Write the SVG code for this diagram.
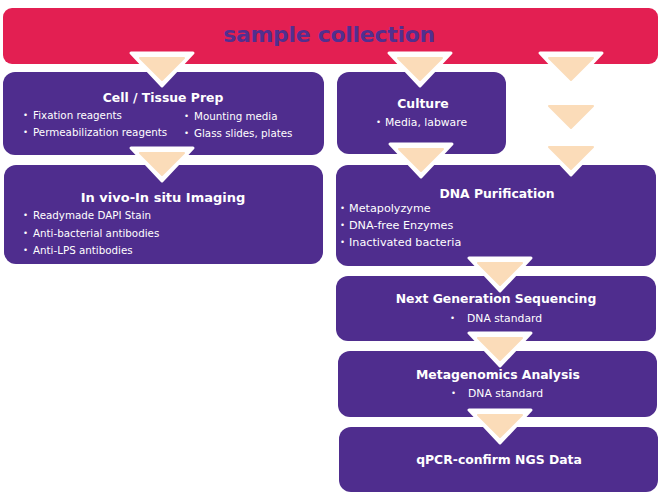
<svg xmlns="http://www.w3.org/2000/svg" width="661" height="497" viewBox="0 0 661 497">
<style>
.box{fill:#4F2D8E}
.banner{fill:#E31F52}
.ttl{font-family:"DejaVu Sans",Verdana,sans-serif;font-weight:bold;font-size:12.4px;fill:#fff;text-anchor:middle}
.b1{font-family:"DejaVu Sans",Verdana,sans-serif;font-size:10.3px;fill:#fff}
.b2{font-family:"DejaVu Sans",Verdana,sans-serif;font-size:11.2px;fill:#fff}
.b3{font-family:"DejaVu Sans",Verdana,sans-serif;font-size:10.8px;fill:#fff}
.dot{font-family:"DejaVu Sans",Verdana,sans-serif;font-size:8.5px;fill:#fff}
.hd{font-family:"DejaVu Sans",Verdana,sans-serif;font-weight:bold;font-size:22px;fill:#522F8F;text-anchor:middle;letter-spacing:-0.3px}
.ow{fill:#fff;stroke:#fff;stroke-width:3;stroke-linejoin:round}
.ip{fill:#FBDCB9;stroke:#FBDCB9;stroke-width:2;stroke-linejoin:round}
</style>
<defs>
<g id="arw">
<polygon class="ow" points="-31,1 31,1 0,34"/>
<polygon class="ip" points="-22,6 22,6 0,28"/>
</g>
</defs>
<g id="sample-collection">
<rect class="banner" x="3" y="8" width="655" height="56" rx="9"/>
<text class="hd" x="329" y="42">sample collection</text>
</g>
<g id="cell-tissue-prep">
<rect class="box" x="3" y="72" width="321" height="83" rx="12"/>
<text class="ttl" x="163" y="102">Cell / Tissue Prep</text>
<text class="dot" x="23" y="118">•</text><text class="b1" x="33" y="119">Fixation reagents</text>
<text class="dot" x="23" y="135">•</text><text class="b1" x="33" y="136">Permeabilization reagents</text>
<text class="dot" x="184" y="119">•</text><text class="b1" x="194" y="120">Mounting media</text>
<text class="dot" x="184" y="136">•</text><text class="b1" x="194" y="137">Glass slides, plates</text>
</g>
<g id="in-vivo-imaging">
<rect class="box" x="4" y="165" width="319" height="99" rx="12"/>
<text class="ttl" x="163" y="202" style="font-size:13px">In vivo-In situ Imaging</text>
<text class="dot" x="23" y="218">•</text><text class="b1" x="33" y="219">Readymade DAPI Stain</text>
<text class="dot" x="23" y="236">•</text><text class="b1" x="33" y="237">Anti-bacterial antibodies</text>
<text class="dot" x="23" y="253">•</text><text class="b1" x="33" y="254">Anti-LPS antibodies</text>
</g>
<g id="culture">
<rect class="box" x="337" y="72" width="169" height="82" rx="12"/>
<text class="ttl" x="423" y="108">Culture</text>
<text class="dot" x="376" y="125">•</text><text class="b3" x="385" y="126">Media, labware</text>
</g>
<g id="dna-purification">
<rect class="box" x="336" y="165" width="320" height="101" rx="12"/>
<text class="ttl" x="497" y="198">DNA Purification</text>
<text class="dot" x="340" y="211">•</text><text class="b2" x="349" y="212">Metapolyzyme</text>
<text class="dot" x="340" y="228">•</text><text class="b2" x="349" y="229">DNA-free Enzymes</text>
<text class="dot" x="340" y="245">•</text><text class="b2" x="349" y="246">Inactivated bacteria</text>
</g>
<g id="ngs">
<rect class="box" x="336" y="276" width="320" height="65" rx="12"/>
<text class="ttl" x="496" y="303">Next Generation Sequencing</text>
<text class="dot" x="450" y="321">•</text><text class="b3" x="467" y="322">DNA standard</text>
</g>
<g id="metagenomics">
<rect class="box" x="338" y="351" width="319" height="66" rx="12"/>
<text class="ttl" x="498" y="379">Metagenomics Analysis</text>
<text class="dot" x="451" y="396">•</text><text class="b3" x="468" y="397">DNA standard</text>
</g>
<g id="qpcr">
<rect class="box" x="339" y="427" width="319" height="65" rx="12"/>
<text class="ttl" x="499" y="464">qPCR-confirm NGS Data</text>
</g>
<g id="connectors">
<use href="#arw" x="162" y="52"/>
<use href="#arw" x="420" y="52"/>
<use href="#arw" x="571" y="52"/>
<use href="#arw" x="571" y="100"/>
<use href="#arw" x="571" y="141"/>
<use href="#arw" x="421" y="143"/>
<use href="#arw" x="162" y="147"/>
<use href="#arw" x="500" y="257"/>
<use href="#arw" x="500" y="332"/>
<use href="#arw" x="500" y="409"/>
</g>
</svg>
